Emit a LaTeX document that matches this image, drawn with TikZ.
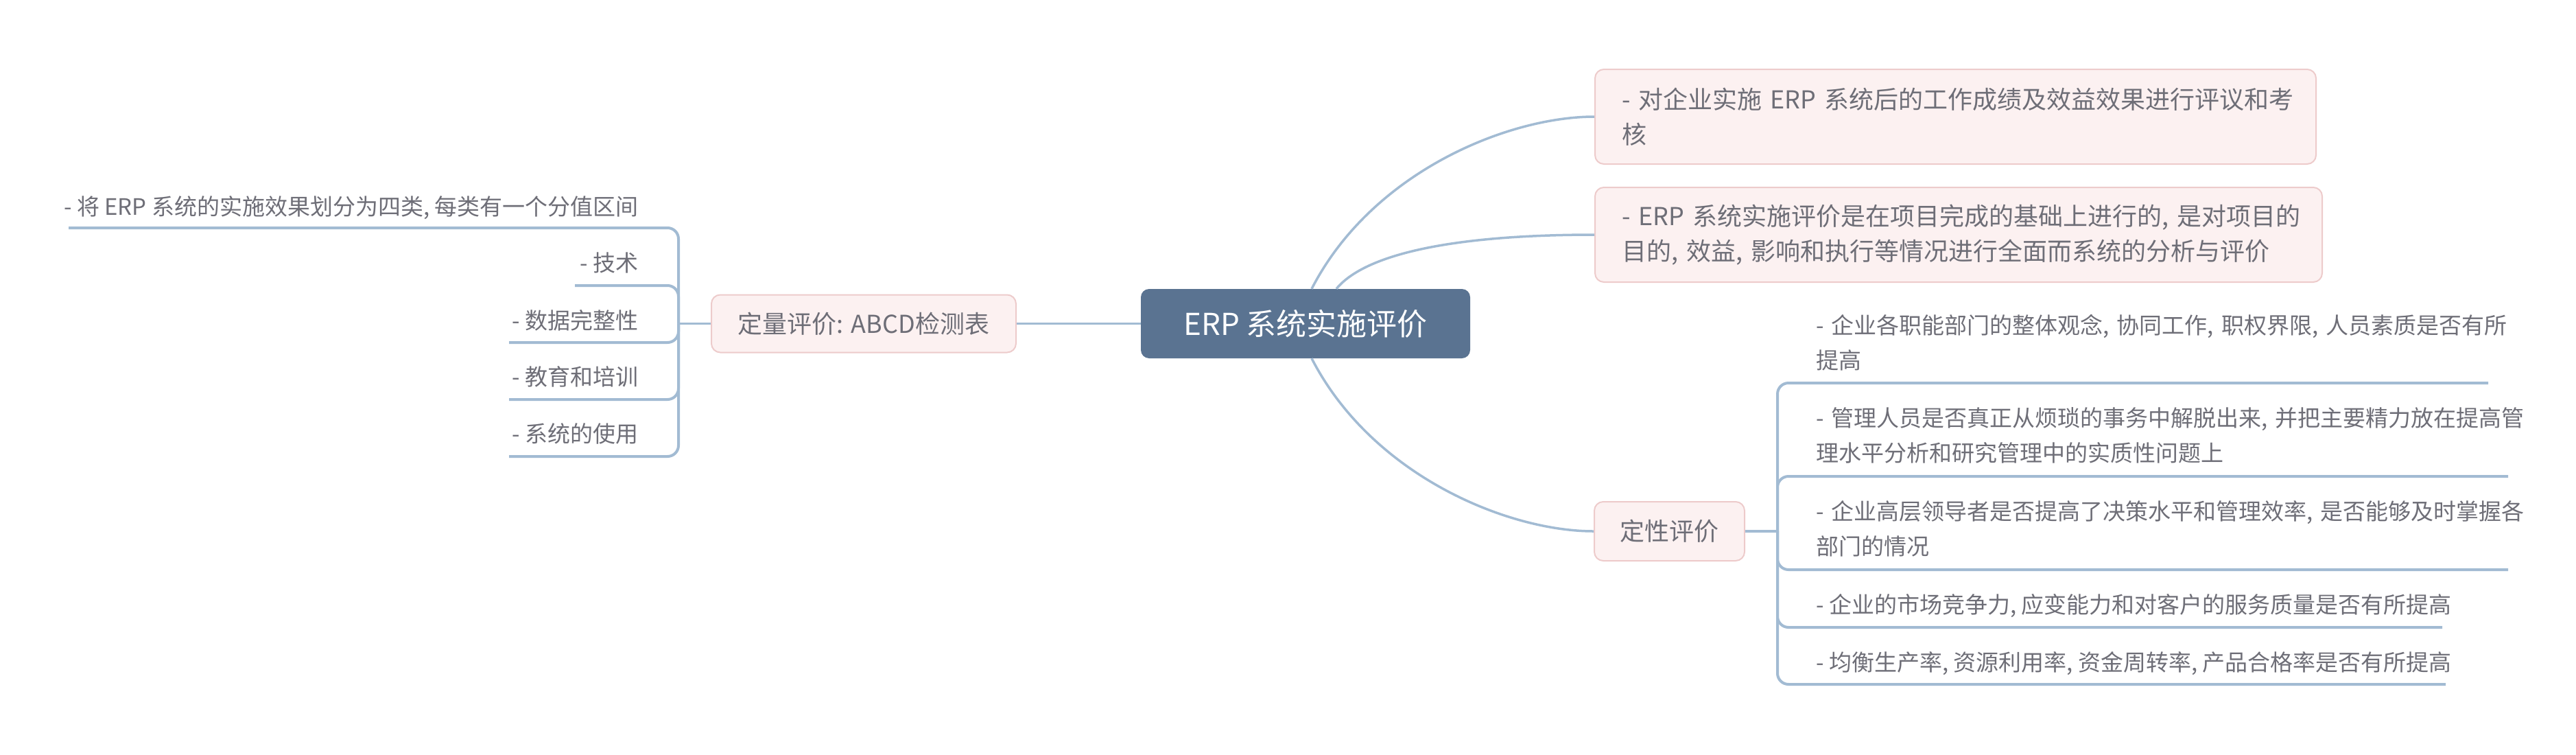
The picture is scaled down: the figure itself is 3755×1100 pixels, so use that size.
\documentclass[tikz,border=0pt]{standalone}
\usepackage{fontspec}
\setmainfont{Noto Sans CJK SC}
\definecolor{rootc}{HTML}{5A7391}
\definecolor{linec}{HTML}{A2BBD3}
\definecolor{boxf}{HTML}{FCF1F1}
\definecolor{boxb}{HTML}{EDCBCB}
\definecolor{txt}{HTML}{6E6E77}
\begin{document}
\begin{tikzpicture}[x=1pt,y=-1pt,
  conn/.style={draw=linec, line width=3.5pt},
  brk/.style={draw=linec, line width=4pt, rounded corners=16pt},
  rootbox/.style={fill=rootc, rounded corners=12pt, text=white, inner sep=0pt,
    font=\fontsize{44}{52}\selectfont},
  sub/.style={draw=boxb, line width=2pt, fill=boxf, rounded corners=13pt, text=txt,
    font=\fontsize{36}{51}\selectfont},
  leaf/.style={text=txt, inner sep=0pt, font=\fontsize{33}{51}\selectfont}]
\useasboundingbox (0,0) rectangle (3755,1100);

% central topic
\node[rootbox, minimum width=480pt, minimum height=101pt] (root) at (1903,471.5) {ERP 系统实施评价};

% right subtopics
\node[sub, minimum width=1051pt, minimum height=138pt, text width=973pt, inner xsep=39pt, inner ysep=0pt, align=left] (b1) at (2850.5,170)
  {\mbox{- 对企业实施 ERP 系统后的工作成绩及效益效果进行评议和考}\\\mbox{核}};
\node[sub, minimum width=1060pt, minimum height=138pt, text width=982pt, inner xsep=39pt, inner ysep=0pt, align=left] (b2) at (2855,342)
  {\mbox{- ERP 系统实施评价是在项目完成的基础上进行的, 是对项目的}\\\mbox{目的, 效益, 影响和执行等情况进行全面而系统的分析与评价}};
\node[sub, minimum width=219pt, minimum height=86pt, inner sep=0pt] (dx) at (2433.5,774) {定性评价};

% left subtopic
\node[sub, minimum width=444pt, minimum height=84pt, inner sep=0pt] (dl) at (1259,471.5) {定量评价: ABCD检测表};

% connectors from root
\draw[conn] ([xshift=9pt]root.north) .. controls +(88,-171) and +(-125,0) .. (b1.west);
\draw[conn] ([xshift=45pt]root.north) .. controls +(42,-51) and +(-205,0) .. (b2.west);
\draw[conn] ([xshift=9pt]root.south) .. controls +(88,171) and +(-125,0) .. (dx.west);
\draw[conn] (root.west) -- (dl.east);

% right leaves
\coordinate (qx) at (2591,774);
\draw[conn] (dx.east) -- (qx);
\coordinate (r1e) at (3627,558);
\coordinate (r2e) at (3656,694);
\coordinate (r3e) at (3656,830);
\coordinate (r4e) at (3560,914);
\coordinate (r5e) at (3565,997);
\foreach \e in {r1e,r2e,r3e,r4e,r5e} \draw[brk] (qx) |- (\e);

\node[leaf, anchor=base west, text width=1100pt, align=left] (r1) at (2647,486.5)
  {\mbox{- 企业各职能部门的整体观念, 协同工作, 职权界限, 人员素质是否有所}\\\mbox{提高}};
\node[leaf, anchor=base west, text width=1100pt, align=left] (r2) at (2647,621.5)
  {\mbox{- 管理人员是否真正从烦琐的事务中解脱出来, 并把主要精力放在提高管}\\\mbox{理水平分析和研究管理中的实质性问题上}};
\node[leaf, anchor=base west, text width=1100pt, align=left] (r3) at (2647,757.5)
  {\mbox{- 企业高层领导者是否提高了决策水平和管理效率, 是否能够及时掌握各}\\\mbox{部门的情况}};
\node[leaf, anchor=base west] (r4) at (2647,893.5) {- 企业的市场竞争力, 应变能力和对客户的服务质量是否有所提高};
\node[leaf, anchor=base west] (r5) at (2647,977.5) {- 均衡生产率, 资源利用率, 资金周转率, 产品合格率是否有所提高};

% left leaves
\coordinate (ql) at (989,471.5);
\draw[conn] (dl.west) -- (ql);
\coordinate (l1e) at (100,332);
\coordinate (l2e) at (838,416);
\coordinate (l3e) at (742,499);
\coordinate (l4e) at (742,582);
\coordinate (l5e) at (742,665);
\foreach \e in {l1e,l2e,l3e,l4e,l5e} \draw[brk] (ql) |- (\e);

\node[leaf, anchor=base east] (l1) at (931,313.5) {- 将 ERP 系统的实施效果划分为四类, 每类有一个分值区间};
\node[leaf, anchor=base east] (l2) at (931,395.5) {- 技术};
\node[leaf, anchor=base east] (l3) at (931,479.5) {- 数据完整性};
\node[leaf, anchor=base east] (l4) at (931,561.5) {- 教育和培训};
\node[leaf, anchor=base east] (l5) at (931,644.5) {- 系统的使用};
\end{tikzpicture}
\end{document}
